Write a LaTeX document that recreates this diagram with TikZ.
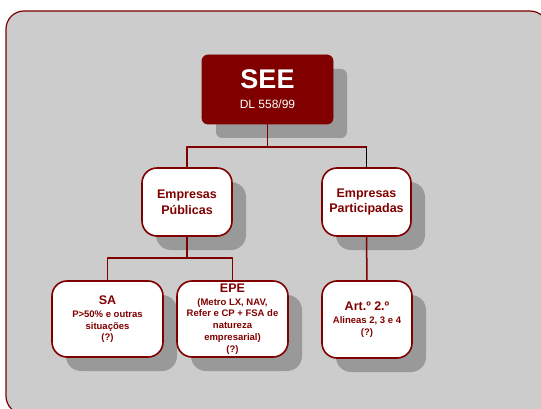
\documentclass[tikz,border=0pt]{standalone}
\usepackage{fontspec}
\setmainfont{Liberation Sans}
\usetikzlibrary{shadows}
\definecolor{vinho}{RGB}{128,0,0}
\definecolor{fundo}{RGB}{204,204,204}
\definecolor{sombra}{RGB}{153,153,153}
\newcommand{\titulo}[1]{{\fontsize{12.5}{15}\selectfont #1}}

\begin{document}
\begin{tikzpicture}[x=1pt, y=-1pt, line cap=round, line join=round,
	caixa/.style={draw=vinho, line width=1.6pt, fill=white, rounded corners=15pt, inner sep=0pt,
		align=center, text=vinho, font=\bfseries\fontsize{9.5}{11.75}\selectfont,
		drop shadow={shadow xshift=14pt, shadow yshift=-14pt, fill=sombra, opacity=1}},
	raiz/.style={caixa, fill=vinho, text=white, rounded corners=6pt, line width=0.8pt,
		font=\bfseries\fontsize{12}{20}\selectfont},
	ligacao/.style={draw=vinho, line width=1.5pt}]
					\useasboundingbox (0,0) rectangle (541,409);
					\draw[vinho, line width=1.2pt, fill=fundo, rounded corners=18pt] (6,11) rectangle (548,414);
			
					\node[raiz, minimum width=131pt, minimum height=69pt] (see) at (267.5,89.5)
						{{\fontsize{27}{30}\selectfont SEE}\\{\mdseries DL 558/99}};
					\node[caixa, minimum width=90pt, minimum height=68pt] (pub) at (187,202) {\titulo{Empresas}\\[3pt]\titulo{Públicas}};
					\node[caixa, minimum width=89pt, minimum height=68pt] (par) at (366.5,202) {\titulo{Empresas}\\[3pt]\titulo{Participadas}};
			
					\node[caixa, minimum width=111pt, minimum height=76pt] (sa) at (107.5,319) {\titulo{SA}\\[1.5pt]P>50\% e outras\\situações\\(?)};
					\node[caixa, minimum width=111pt, minimum height=76pt] (epe) at (232.5,319) {\titulo{EPE}\\[1pt](Metro LX, NAV,\\Refer e CP + FSA de\\natureza\\empresarial)\\(?)};
					\node[caixa, minimum width=90pt, minimum height=77pt] (art) at (367,319.5) {\titulo{Art.º 2.º}\\[1.5pt]Alineas 2, 3 e 4\\(?)};
			
					\coordinate (ramo1) at (267.5,147);
					\coordinate (ramo2) at (187,258);
					\draw[ligacao] (see.south) -- (ramo1);
					\draw[ligacao] (ramo1) -| (pub.north);
					\draw[ligacao] (ramo1) -- (ramo1 -| par.north);
					\draw[ligacao, draw=black] (ramo1 -| par.north) -- (par.north);
					\draw[ligacao] (pub.south) -- (ramo2);
					\draw[ligacao] (ramo2) -| (sa.north);
					\draw[ligacao] (ramo2) -| (epe.north);
					\draw[ligacao] (par.south) -- (art.north);
				\end{tikzpicture}
\end{document}
